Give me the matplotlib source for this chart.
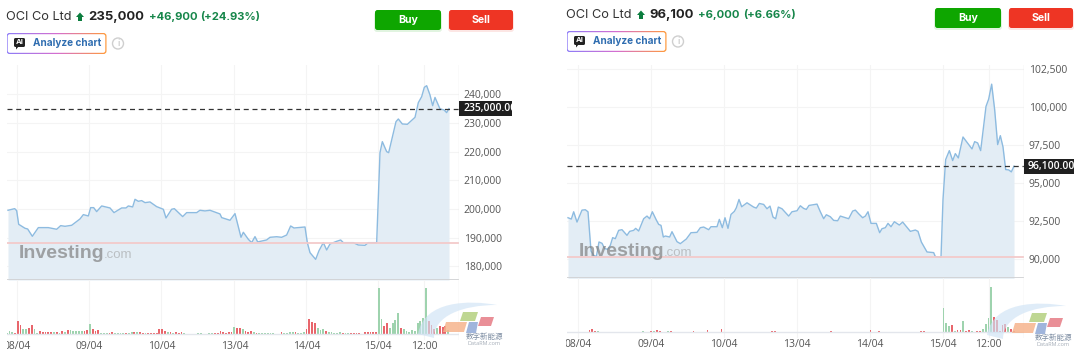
import numpy as np
import matplotlib
matplotlib.use('Agg')
import matplotlib.pyplot as plt
from matplotlib.patches import Rectangle, FancyBboxPatch, Polygon, PathPatch, Circle
from matplotlib.path import Path
from matplotlib.ticker import FuncFormatter

W, H = 1080, 355
plt.rcParams['font.family'] = ['Open Sans', 'DejaVu Sans']

date_labels = ['08/04', '09/04', '10/04', '13/04', '14/04', '15/04', '12:00']

# time runs in small steps from the 08/04 open
left_ticks = [0, 216, 432, 651, 867, 1082, 1220]
left_t = [-28, -8, -2, 4, 23, 31, 45, 63, 93, 118, 130, 143, 163, 188, 198, 213, 220, 229, 238, 253, 278, 290,
          313, 326, 333, 346, 353, 363, 373, 383, 398, 418, 438, 446, 463, 471, 496, 508, 538, 548, 563, 578,
          608, 613, 638, 653, 671, 678, 693, 703, 713, 721, 748, 758, 778, 793, 808, 820, 830, 863, 870, 878,
          895, 905, 918, 928, 938, 958, 970, 978, 1008, 1023, 1043, 1053, 1078, 1088, 1095, 1108, 1114, 1123,
          1136, 1143, 1155, 1170, 1193, 1203, 1213, 1221, 1228, 1238, 1246, 1253, 1268, 1280, 1288, 1295]
left_price = [199525, 200100, 199400, 194640, 193250, 193000, 190450, 193480, 193480, 192900, 194170, 193940,
              194290, 196500, 198010, 197550, 200450, 200450, 199060, 201040, 200340, 198710, 200340, 200340,
              201040, 200690, 203360, 202660, 202900, 202200, 202430, 200800, 199880, 196850, 199880, 200100,
              197320, 198710, 198710, 199530, 199300, 199530, 198250, 196970, 196040, 198360, 190100, 191850,
              189400, 188240, 190340, 188480, 189180, 190100, 190300, 190100, 190900, 194050, 193350, 193700,
              188230, 184740, 182400, 185440, 188230, 185670, 187770, 188700, 189160, 188230, 188230, 187410,
              187300, 188230, 188230, 219640, 223470, 219980, 219630, 224050, 230450, 231380, 229640, 229520,
              231960, 237080, 239170, 242430, 243000, 239750, 236030, 238900, 234900, 234550, 233600, 235000]
left_prev_close = 188100
left_last = 235000
left_vol = [2, 8, 6, -3, -38, -26, 14, 15, -17, -27,
            14, 4, -8, -5, -5, -6, -5, 5, -5, 4,
            -8, 5, -12, 12, 8, 8, 10, 10, -10, -12,
            30, -14, -10, -11, 3, 3, 3, -4, -5, 2,
            2, 4, 3, -3, 3, 5, -7, 6, -5, -4,
            3, -3, -4, -4, -4, -14, -14, -10, 6, -5,
            3, -5, -4, -7, 2, 1, 1, 1, 1, 2,
            2, 1, 1, 3, 2, -2, -3, -10, -6, -4,
            -5, -5, 20, -18, -18, 14, -8, -7, -8, 6,
            -4, 3, 2, 2, 2, 2, 3, 1, 1, -5,
            3, 2, 5, 7, -5, 3, 3, 6, -14, -44,
            -37, -32, 18, 13, 15, -9, 6, 5, 3, 4,
            5, -4, 3, 3, -4, -4, -4, -4, 1, -5,
            -6, -6, -7, -7,
            137, 44, -24, -33, 18, 34, 42, 64, -19, 14,
            8, 6, 11, 8, 33, 38, 48, 137, -38, -27,
            -15, 18, -23, -22, -24, 13]

right_ticks = [0, 219, 438, 657, 876, 1096, 1233]
right_t = [-29, -19, -12, -2, 13, 23, 31, 40, 48, 56, 64, 73, 81, 90, 98, 105, 113, 123, 133, 148, 156, 168,
           174, 183, 198, 208, 216, 224, 236, 243, 250, 257, 263, 276, 283, 298, 308, 326, 340, 358, 368, 378,
           393, 400, 418, 425, 434, 442, 451, 460, 470, 476, 484, 492, 508, 528, 536, 545, 558, 568, 577, 586,
           594, 602, 613, 633, 643, 658, 668, 678, 686, 694, 718, 728, 738, 746, 758, 768, 780, 788, 813, 825,
           833, 843, 855, 863, 871, 880, 896, 906, 913, 923, 931, 940, 950, 965, 975, 998, 1013, 1021, 1031,
           1048, 1068, 1073, 1090, 1096, 1104, 1115, 1125, 1133, 1142, 1156, 1183, 1191, 1200, 1209, 1225,
           1233, 1242, 1251, 1260, 1268, 1276, 1284, 1293, 1301, 1309]
right_price = [92697, 92610, 93090, 92412, 93200, 93224, 93090, 90504, 90220, 90130, 91097, 91010, 90660, 90614,
               90877, 91382, 91316, 91864, 91908, 91535, 91798, 91864, 91996, 91820, 92632, 92807, 92632, 93092,
               92544, 92260, 92193, 91425, 91490, 91425, 91776, 91118, 90987, 91294, 91710, 91732, 92040, 92083,
               91908, 92105, 92105, 92588, 92040, 92697, 91996, 92916, 93114, 93355, 93903, 93421, 93684, 93400,
               93334, 93640, 93575, 93290, 93465, 92741, 92632, 93400, 93290, 92807, 93092, 93158, 93487, 93312,
               93246, 93509, 93597, 93092, 92632, 92895, 92763, 92522, 92500, 92807, 92632, 93136, 93200, 92960,
               92697, 92807, 93092, 92325, 92325, 91710, 91974, 92040, 92325, 92105, 92434, 92215, 92412, 91798,
               91886, 91798, 91096, 90438, 90395, 90132, 90088, 93903, 96535, 97127, 96470, 96930, 96645, 98026,
               97237, 97720, 97632, 97127, 100044, 100526, 101513, 99825, 97522, 98114, 97369, 95877, 95855,
               95724, 96100]
right_prev_close = 90100
right_last = 96100
right_vol = [1, 1, 1, 1, 1, 1, 1, 1, -6, -8,
             -4, 3, 1, 1, 1, 1, 1, 1, 1, 1,
             1, 1, 1, 1, 1, 1, 1, 3, 1, 1,
             -4, 3, -5, -4, 1, 1, 2, -2, 1, 1,
             1, 1, 1, 1, 1, -2, 1, 1, 1, 1,
             -5, 1, 1, 1, 1, -10, 1, 1, 1, 1,
             1, 1, 1, 1, 1, 1, 1, 1, 1, 1,
             1, 1, 1, -3, -3, 1, 1, 1, 1, 1,
             1, 1, 1, 1, 1, 1, 1, 1, 1, 1,
             1, 1, 1, 1, -2, 1, 1, 1, 1, 1,
             1, 1, 1, 1, 1, 1, 1, 1, -5, 1,
             1, -4, 1, 1, 1, 1, 1, 1, 1, 1,
             1, 1, 1, 1, 1, 1, -4, -3, 1, 1,
             1, 1, 1, 1,
             72, 27, 17, -20, 3, -5, -5, 33, -4, -6,
             3, 1, -4, -3, 8, 25, 42, 136, -44, -36,
             -2, -22, -24, 16, -8, -3]

LINE = '#8dbbe0'
FILL = '#e3edf5'
GRID = '#f4f4f4'
UP = '#9ed3ae'
DOWN = '#e8666c'
TEXT = '#555555'
UI_FONT = ['Inter', 'DejaVu Sans']
TICK_SIZE = 7.5


def px_axes(fig, l, t, r, b):
    return fig.add_axes([l / W, 1 - b / H, (r - l) / W, (b - t) / H])


def draw_chart(fig, box, vol_box, t, price, vol, prev_close, last, ticks, xlim, ylim, yticks, vol_start, vol_step):
    ax = px_axes(fig, *box)
    vx = px_axes(fig, *vol_box)
    for a in (ax, vx):
        a.set_xlim(*xlim)
        a.set_facecolor('none')
        for s in a.spines.values():
            s.set_visible(False)
        a.set_axisbelow(True)
        a.set_xticks(ticks)
        a.grid(True, axis='x', color=GRID, lw=0.8)
        a.tick_params(length=0)

    ax.set_ylim(*ylim)
    ax.set_yticks(yticks)
    ax.grid(True, axis='y', color=GRID, lw=0.8)
    ax.yaxis.tick_right()
    ax.yaxis.set_major_formatter(FuncFormatter(lambda v, p: f'{int(v):,}'))
    ax.tick_params(axis='y', labelsize=TICK_SIZE, labelcolor=TEXT, pad=3.5)
    ax.tick_params(axis='x', labelbottom=False)
    ax.fill_between(t, price, ylim[0], color=FILL, lw=0)
    ax.plot(t, price, color=LINE, lw=1.0)
    ax.axhline(prev_close, color='#f3caca', lw=1.3)
    ax.axhline(last, color='#333333', lw=0.9, dashes=(4, 3))
    ax.axhline(ylim[0], color='#d0d2d4', lw=2.0)
    ax.axvline(xlim[1], color='#e6e6e6', lw=1.0)

    vol = np.array(vol)
    bar_t = vol_start + vol_step * np.arange(len(vol))
    colors = [UP if v > 0 else DOWN for v in vol]
    vx.set_ylim(-18, 162)
    vx.set_yticks([])
    vx.axhline(0, color='#e3e6ec', lw=1.0)
    vx.axvline(xlim[1], color='#e6e6e6', lw=1.0)
    vx.bar(bar_t, np.abs(vol), width=5.4, color=colors, lw=0)
    vx.set_xticklabels(date_labels, fontsize=TICK_SIZE, color=TEXT)
    vx.tick_params(axis='x', pad=1)
    return ax


def header(ov, x, y, name, price, change, pct, x_arrow, x_price, x_change, x_pct, x_buy, x_sell, btn_y):
    ov.text(x, y, name, fontsize=9.2, color='#333333', family=UI_FONT, va='center')
    a = x_arrow
    ov.add_patch(Polygon([(a - 4, y + 0), (a, y - 4.5), (a + 4, y + 0), (a + 2, y + 0), (a + 2, y + 4),
                          (a - 2, y + 4), (a - 2, y + 0)], color='#0b7d3e', lw=0))
    ov.text(x_price, y, price, fontsize=9.4, fontweight='bold', color='#222222', family=UI_FONT, va='center')
    ov.text(x_change, y, change, fontsize=8.1, fontweight='bold', color='#16864a', family=UI_FONT, va='center')
    ov.text(x_pct, y, pct, fontsize=8.1, fontweight='bold', color='#16864a', family=UI_FONT, va='center')

    for bx, lab, col in ((x_buy, 'Buy', '#0ea600'), (x_sell, 'Sell', '#ee3524')):
        w = 66 if lab == 'Buy' else 64
        ov.add_patch(FancyBboxPatch((bx - 1, btn_y + 2), w + 2, 20, boxstyle='round,pad=0,rounding_size=3',
                                    color=col, alpha=0.12, lw=0))
        ov.add_patch(FancyBboxPatch((bx, btn_y), w, 20, boxstyle='round,pad=0,rounding_size=2.5', color=col, lw=0))
        ov.text(bx + w / 2, btn_y + 10, lab, fontsize=7.6, fontweight='bold', color='white', ha='center', va='center',
                family=UI_FONT)

    # analyze button, gradient border
    by = y + 16
    outer = FancyBboxPatch((x + 0.5, by), 100, 21, boxstyle='round,pad=0,rounding_size=3', fc='none', ec='none',
                           transform=ov.transData)
    ov.add_patch(outer)
    grad = np.linspace(0, 1, 64).reshape(1, -1)
    cmap = matplotlib.colors.LinearSegmentedColormap.from_list('g', ['#8f7cf7', '#d56fd0', '#ff9a3c'])
    im = ov.imshow(grad, extent=(x + 0.5, x + 100.5, by + 21, by), cmap=cmap, aspect='auto', zorder=2)
    im.set_clip_path(outer)
    ov.set_xlim(0, W)
    ov.set_ylim(H, 0)
    ov.add_patch(FancyBboxPatch((x + 1.7, by + 1.2), 97.6, 18.6, boxstyle='round,pad=0,rounding_size=2.2',
                                fc='white', ec='none', zorder=3))
    ov.add_patch(FancyBboxPatch((x + 8, by + 5), 11, 9, boxstyle='round,pad=0,rounding_size=1.5',
                                fc='#222222', ec='none', zorder=4))
    ov.add_patch(Polygon([(x + 10, by + 13), (x + 13, by + 13), (x + 10, by + 16.5)], color='#222222', lw=0, zorder=4))
    ov.text(x + 13.5, by + 9.5, 'AI', fontsize=5.5, fontweight='bold', color='white', ha='center', va='center',
            zorder=5, family=UI_FONT)
    ov.text(x + 27, by + 10.5, 'Analyze chart', fontsize=7.2, fontweight='bold', color='#2f6db0', va='center', zorder=5,
            family=UI_FONT)
    ov.add_patch(Circle((x + 112, by + 10.5), 5.5, fc='white', ec='#cfcfcf', lw=1.0, zorder=4))
    ov.text(x + 112, by + 10.5, 'i', fontsize=6.5, color='#b5b5b5', ha='center', va='center', zorder=5)


def price_box(ov, l, t, r, b, label, clip_r):
    ov.add_patch(Rectangle((l, t), r - l, b - t, color='#1f1f1f', lw=0, zorder=6))
    ov.text(l + 4, (t + b) / 2 + 0.3, label, fontsize=TICK_SIZE, fontweight='semibold', color='white', va='center',
            zorder=7)
    if clip_r:
        ov.add_patch(Rectangle((r, t - 1), 40, b - t + 2, color='white', lw=0, zorder=8))


def watermarks(ov, inv_x, inv_y, dx, dy):
    ov.text(inv_x, inv_y, 'Investing', fontsize=14, fontweight='bold', color='#808080', alpha=0.7, va='center',
            family=['Liberation Sans', 'DejaVu Sans'], zorder=2)
    ov.text(inv_x + 85, inv_y + 1, '.com', fontsize=9.5, color='#9a9a9a', alpha=0.55, va='center',
            family=['Liberation Sans', 'DejaVu Sans'], zorder=2)

    # DataRM logo
    verts = [(418 + dx, 334 + dy), (424 + dx, 300 + dy), (470 + dx, 300 + dy), (497 + dx, 305 + dy),
             (462 + dx, 305 + dy), (434 + dx, 316 + dy), (434 + dx, 338 + dy), (418 + dx, 334 + dy)]
    codes = [Path.MOVETO, Path.CURVE4, Path.CURVE4, Path.CURVE4, Path.CURVE4, Path.CURVE4, Path.CURVE4, Path.CLOSEPOLY]
    ov.add_patch(PathPatch(Path(verts, codes), fc='#cfe3f5', ec='none', alpha=0.65, zorder=3))
    shapes = [([(446, 322), (467, 322), (464, 332), (443, 332)], '#f6b48d'),
              ([(469, 322), (478, 322), (476, 333), (466, 333)], '#8fa8d6'),
              ([(463, 312), (478, 312), (475, 321), (460, 321)], '#b4d07f'),
              ([(481, 317), (494, 317), (491, 326), (478, 326)], '#e67c85')]
    for pts, col in shapes:
        ov.add_patch(Polygon([(p + dx, q + dy) for p, q in pts], color=col, alpha=0.85, lw=0, zorder=4))
    ov.text(484 + dx, 337 + dy, '数字新能源', fontsize=5.4, color='#7e8ea3', ha='center', va='center', zorder=4,
            family=['Noto Sans CJK SC', 'DejaVu Sans'])
    ov.text(484 + dx, 343.5 + dy, 'DataRM.com', fontsize=4, color='#a5adb8', ha='center', va='center', zorder=4)


fig = plt.figure(figsize=(W / 100, H / 100), dpi=100, facecolor='white')

draw_chart(fig, (7, 65, 459, 280), (7, 280, 459, 340), left_t, left_price, left_vol, left_prev_close, left_last,
           left_ticks, (-31, 1325), (175200, 250220), list(range(180000, 240001, 10000)), -32, 8.33)
draw_chart(fig, (567, 65, 1024, 278.3), (567, 278.3, 1024, 338), right_t, right_price, right_vol, right_prev_close,
           right_last, right_ticks, (-32, 1339), (88700, 102778), list(range(90000, 102501, 2500)), -32, 8.43)

ov = fig.add_axes([0, 0, 1, 1], zorder=10)
ov.set_xlim(0, W)
ov.set_ylim(H, 0)
ov.axis('off')
ov.patch.set_alpha(0)

header(ov, 6, 17, 'OCI Co Ltd', '235,000', '+46,900', '(+24.93%)', 80, 88, 149, 200, 375, 449, 10)
header(ov, 566, 15, 'OCI Co Ltd', '96,100', '+6,000', '(+6.66%)', 641, 649, 698, 743, 935, 1009, 8)
ov.set_xlim(0, W)
ov.set_ylim(H, 0)

price_box(ov, 459, 101, 512, 116, '235,000.00', True)
price_box(ov, 1024, 159, 1074, 174, '96,100.00', False)
watermarks(ov, 19, 254, 0, 0)
watermarks(ov, 579, 252, 569, 1)

# hides the cut-off part of the first date labels
ov.add_patch(Rectangle((0, 338), 7, 17, color='white', lw=0, zorder=8))
ov.add_patch(Rectangle((555, 338), 11, 17, color='white', lw=0, zorder=8))

fig.savefig('out.png', dpi=100)
